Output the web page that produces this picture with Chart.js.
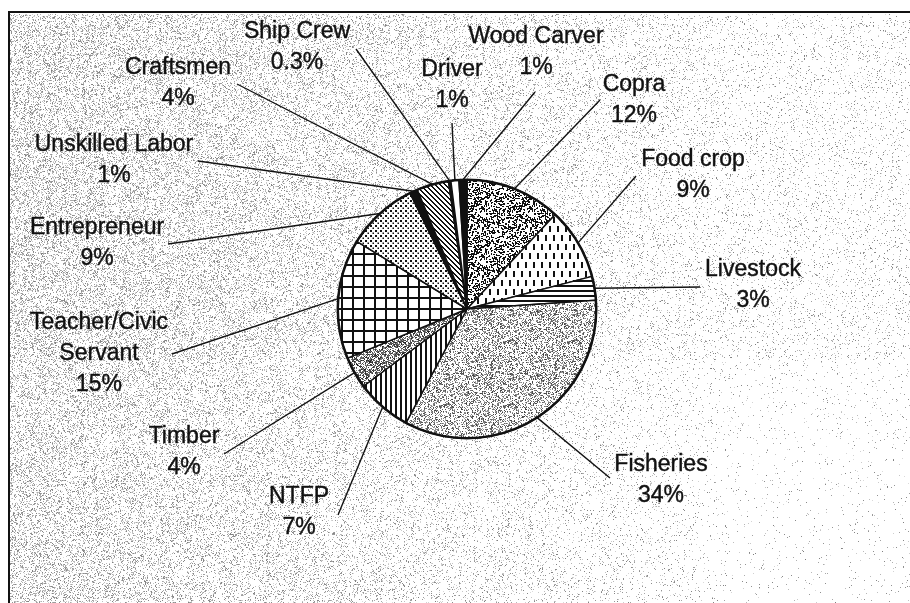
<!DOCTYPE html>
<html>
<head>
<meta charset="utf-8">
<script src="https://cdn.jsdelivr.net/npm/chart.js@4.4.1/dist/chart.umd.min.js"></script>
<style>
  html, body { margin: 0; padding: 0; background: #fff; }
  canvas { display: block; }
</style>
</head>
<body>
<canvas id="pieChart" width="910" height="603"></canvas>
<script>
// slice order is clockwise from 12 o'clock
const categories = ["Copra", "Food crop", "Livestock", "Fisheries", "NTFP", "Timber",
    ["Teacher/Civic", "Servant"], "Entrepreneur", "Unskilled Labor", "Craftsmen",
    "Ship Crew", "Driver", "Wood Carver"];
const shares = [12, 9, 3, 34, 7, 4, 15, 9, 1, 4, 0.3, 1, 1];

// label centre of first line, and where its leader line starts
const labelPos = [[634, 85], [693, 160], [753, 270], [661, 465], [299, 497], [184, 437],
    [99, 323], [97, 228], [114, 145], [178, 68], [297, 32], [452, 70], [536, 37]];
const leaderStart = [[600, 100], [636, 176], [700, 287], [610, 478], [338, 515], [224, 454],
    [172, 354], [168, 244], [198, 161], [237, 84], [356, 49], [452, 123], [535, 92]];

const canvas = document.getElementById("pieChart");
const ctx = canvas.getContext("2d");

let seed = 7;
function rnd() {
    seed = (seed * 1664525 + 1013904223) >>> 0;
    return seed / 4294967296;
}

function tile(w, h, draw) {
    const c = document.createElement("canvas");
    c.width = w;
    c.height = h;
    const g = c.getContext("2d");
    g.fillStyle = "#fff";
    g.fillRect(0, 0, w, h);
    g.fillStyle = "#111";
    draw(g, w, h);
    return ctx.createPattern(c, "repeat");
}

function speckle(density, lo, hi) {
    return (g, w, h) => {
        const img = g.getImageData(0, 0, w, h);
        for (let i = 0; i < w * h; i++) {
            if (rnd() < density) {
                const v = lo + rnd() * (hi - lo);
                img.data[i * 4] = img.data[i * 4 + 1] = img.data[i * 4 + 2] = v;
            }
        }
        g.putImageData(img, 0, 0);
    };
}

const patterns = [
    // Copra - wormy texture
    tile(48, 48, (g) => {
        for (let i = 0; i < 620; i++) {
            const x = Math.floor(rnd() * 48), y = Math.floor(rnd() * 48);
            if (rnd() < 0.5) g.fillRect(x, y, 2, 1); else g.fillRect(x, y, 1, 2);
        }
    }),
    // Food crop - vertical dashes
    tile(8, 18, (g) => {
        g.fillRect(1, 1, 2, 6);
        g.fillRect(5, 10, 2, 6);
    }),
    // Livestock - horizontal stripes
    tile(4, 5, (g) => g.fillRect(0, 0, 4, 2)),
    // Fisheries - light speckle
    tile(64, 64, speckle(0.4, 60, 170)),
    // NTFP - vertical stripes
    tile(5, 4, (g) => g.fillRect(0, 0, 2, 4)),
    // Timber - dark speckle
    tile(64, 64, speckle(0.6, 30, 140)),
    // Teacher - grid
    tile(11, 11, (g) => {
        g.fillRect(0, 0, 11, 2);
        g.fillRect(0, 0, 2, 11);
    }),
    // Entrepreneur - dots
    tile(5, 5, (g) => {
        g.fillRect(0, 0, 2, 2);
        g.fillRect(2.5, 2.5, 1.5, 1.5);
    }),
    "#111",
    // Craftsmen - diagonal lines
    tile(5, 5, (g) => {
        for (let i = 0; i < 5; i++) {
            g.fillRect(i, i, 1, 1);
            g.fillRect((i + 1) % 5, i, 1, 1);
        }
    }),
    "#111",
    "#fff",
    "#111"
];

// speckled scanned background
const bg = document.createElement("canvas");
bg.width = 910;
bg.height = 603;
(function () {
    const g = bg.getContext("2d");
    const img = g.createImageData(910, 603);
    for (let y = 0; y < 603; y++) {
        for (let x = 0; x < 910; x++) {
            const k = (y * 910 + x) * 4;
            let v = 255;
            if (x > 9 && y > 13) {
                let d = 0.03 + 0.27 * Math.max(0, 1 - x / 760);
                if (y < 360) d += 0.04;
                if (x > 700 && y > 440) d *= 0.6;
                if (rnd() < d) v = 125 + rnd() * 95;
            }
            img.data[k] = img.data[k + 1] = img.data[k + 2] = v;
            img.data[k + 3] = 255;
        }
    }
    g.putImageData(img, 0, 0);
})();

const backgroundPlugin = {
    id: "scanBackground",
    beforeDraw(chart) {
        const c = chart.ctx;
        c.save();
        c.drawImage(bg, 0, 0);
        c.strokeStyle = "#111";
        c.lineWidth = 2;
        c.beginPath();
        c.moveTo(9, 603);
        c.lineTo(9, 12);
        c.lineTo(910, 12);
        c.stroke();
        c.restore();
    }
};

const labelPlugin = {
    id: "leaderLabels",
    afterDatasetsDraw(chart) {
        const c = chart.ctx;
        const meta = chart.getDatasetMeta(0);
        c.save();
        c.strokeStyle = "#111";
        c.fillStyle = "#111";
        c.font = '23px "Liberation Sans", Arial, sans-serif';
        c.textAlign = "center";
        c.textBaseline = "middle";
        meta.data.forEach((arc, i) => {
            const a = (arc.startAngle + arc.endAngle) / 2;
            const px = arc.x + Math.cos(a) * arc.outerRadius;
            const py = arc.y + Math.sin(a) * arc.outerRadius;
            c.lineWidth = 1.4;
            c.beginPath();
            c.moveTo(leaderStart[i][0], leaderStart[i][1]);
            c.lineTo(px, py);
            c.stroke();

            const name = categories[i];
            const lines = (Array.isArray(name) ? name : [name]).concat(shares[i] + "%");
            c.lineWidth = 0.4;
            lines.forEach((t, k) => {
                c.fillText(t, labelPos[i][0], labelPos[i][1] + k * 31);
                c.strokeText(t, labelPos[i][0], labelPos[i][1] + k * 31);
            });
        });
        // heavier outer rim
        const arc0 = meta.data[0];
        c.lineWidth = 2.5;
        c.beginPath();
        c.arc(arc0.x, arc0.y, arc0.outerRadius, 0, Math.PI * 2);
        c.stroke();
        c.restore();
    }
};

new Chart(canvas, {
    type: "pie",
    data: {
        labels: categories,
        datasets: [{
            data: shares,
            backgroundColor: patterns,
            borderColor: "#111",
            borderWidth: 1.5
        }]
    },
    options: {
        responsive: false,
        animation: false,
        layout: { padding: { top: 179, bottom: 164, left: 336, right: 312 } },
        plugins: {
            legend: { display: false },
            tooltip: { enabled: false }
        }
    },
    plugins: [backgroundPlugin, labelPlugin]
});
</script>
</body>
</html>
